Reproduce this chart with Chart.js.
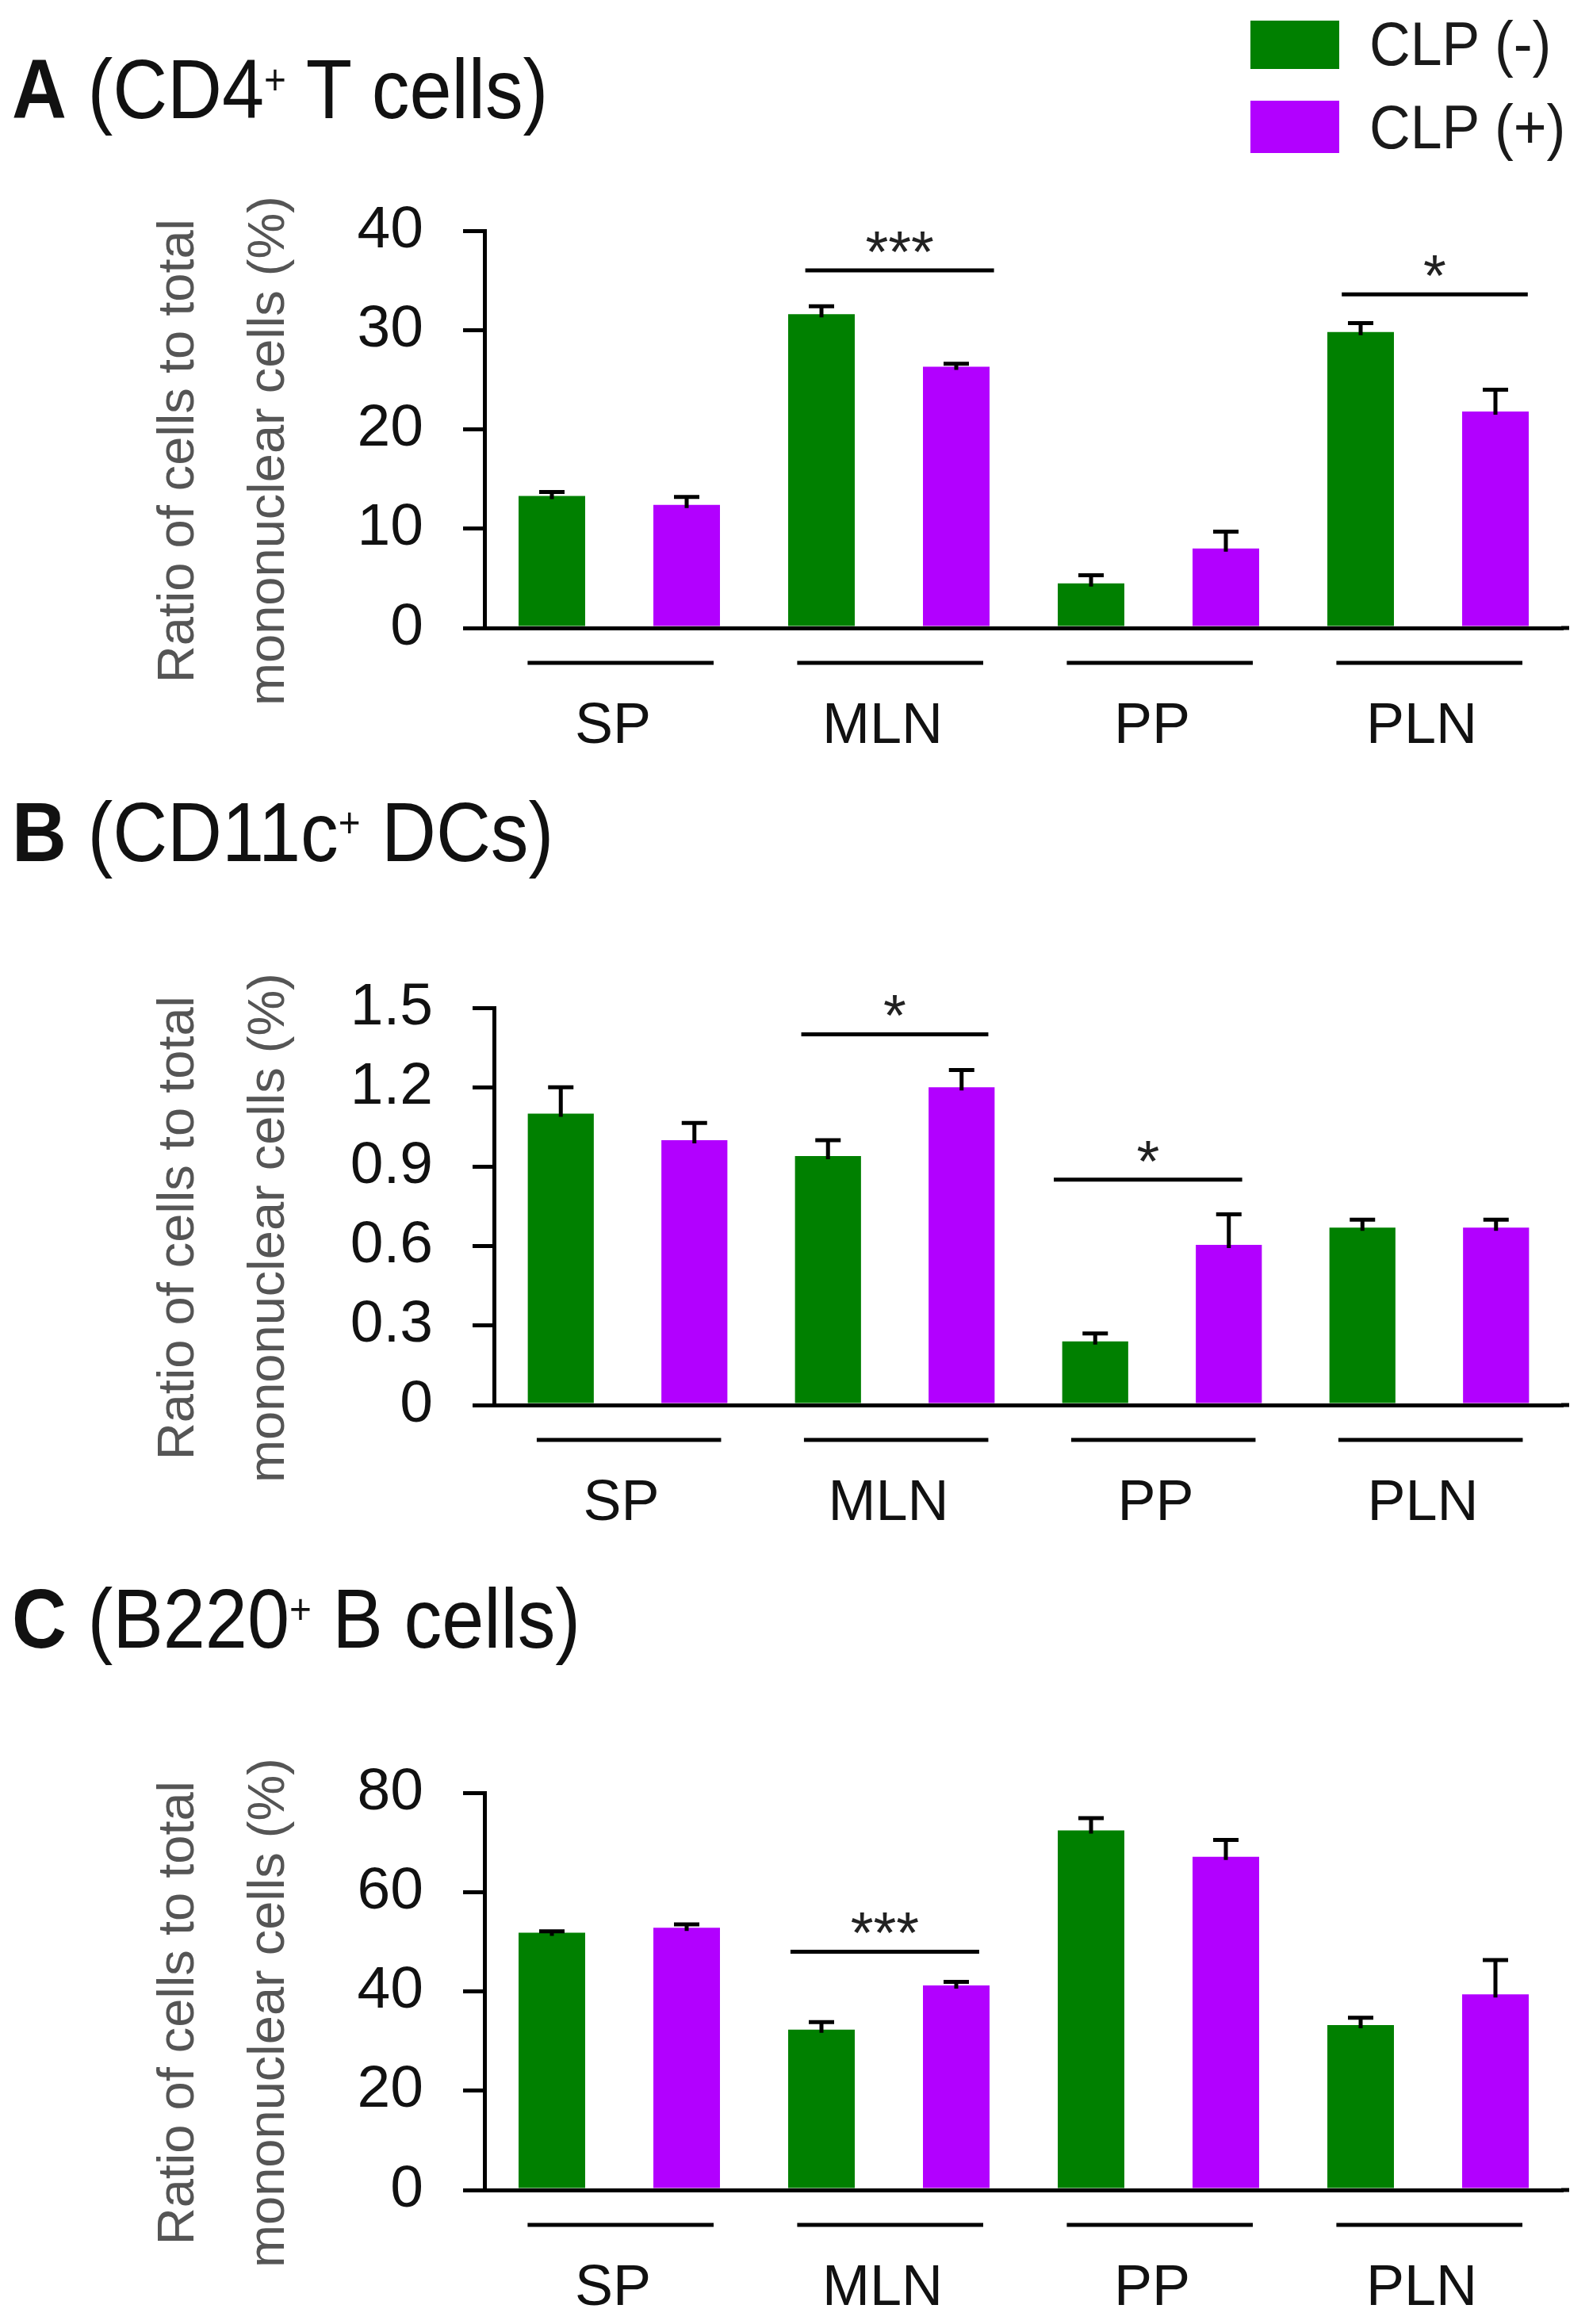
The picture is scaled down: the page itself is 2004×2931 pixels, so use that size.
<!DOCTYPE html>
<html>
<head>
<meta charset="utf-8">
<script src="https://cdn.jsdelivr.net/npm/chart.js@4.4.1/dist/chart.umd.min.js"></script>
<style>
html,body{margin:0;padding:0;background:#fff;}
body{width:2004px;height:2931px;position:relative;overflow:hidden;font-family:"Liberation Sans",Arial,sans-serif;}
.ptitle{position:absolute;left:15px;font-size:106px;line-height:1;white-space:nowrap;transform:scaleX(0.9);transform-origin:0 0;color:#111;}
.ptitle b{font-weight:bold;}
.ptitle sup{font-size:0.5em;vertical-align:30px;line-height:0;}
.legbox{position:absolute;left:1577px;width:112px;}
.legt{position:absolute;left:1727px;font-size:77px;line-height:1;white-space:nowrap;transform:scaleX(0.93);transform-origin:0 0;color:#1a1a1a;}
canvas{position:absolute;left:0;}
</style>
</head>
<body>
<div class="ptitle" style="top:59px;"><b>A</b> (CD4<sup>+</sup> T cells)</div>
<div class="ptitle" style="top:996px;"><b>B</b> (CD11c<sup>+</sup> DCs)</div>
<div class="ptitle" style="top:1988px;"><b>C</b> (B220<sup>+</sup> B cells)</div>

<div class="legbox" id="leg0" style="top:26px;height:61px;"></div>
<div class="legt" id="legt0" style="top:17px;"></div>
<div class="legbox" id="leg1" style="top:127px;height:66px;"></div>
<div class="legt" id="legt1" style="top:122px;"></div>

<canvas id="cA" width="2004" height="916" style="top:41px;width:2004px;height:916px;"></canvas>
<canvas id="cB" width="2004" height="916" style="top:1021px;width:2004px;height:916px;"></canvas>
<canvas id="cC" width="2004" height="916" style="top:2011px;width:2004px;height:916px;"></canvas>

<script>
// ---------- data ----------
const categories = ['SP', 'MLN', 'PP', 'PLN'];
const seriesNames = ['CLP (-)', 'CLP (+)'];
const seriesColors = ['#008000', '#b200ff'];

// Panel A: CD4+ T cells
const aNeg    = [13.3, 31.6, 4.5, 29.8];
const aNegErr = [0.4, 0.8, 0.8, 0.9];
const aPos    = [12.4, 26.3, 8.0, 21.8];
const aPosErr = [0.8, 0.3, 1.7, 2.2];
const aTicks  = [0, 10, 20, 30, 40];
const aTickLabels = ['0', '10', '20', '30', '40'];
const aSig = [
  {from: 0.69, to: 1.39, y: 36.0, label: '***'},
  {from: 2.68, to: 3.37, y: 33.6, label: '*'}
];

// Panel B: CD11c+ DCs
const bNeg    = [1.10, 0.94, 0.24, 0.67];
const bNegErr = [0.10, 0.06, 0.03, 0.03];
const bPos    = [1.00, 1.20, 0.605, 0.67];
const bPosErr = [0.065, 0.065, 0.115, 0.03];
const bTicks  = [0, 0.3, 0.6, 0.9, 1.2, 1.5];
const bTickLabels = ['0', '0.3', '0.6', '0.9', '1.2', '1.5'];
const bSig = [
  {from: 0.65, to: 1.35, y: 1.40, label: '*'},
  {from: 1.595, to: 2.30, y: 0.851, label: '*'}
];

// Panel C: B220+ B cells
const cNeg    = [51.8, 32.3, 72.4, 33.2];
const cNegErr = [0.3, 1.5, 2.5, 1.5];
const cPos    = [52.8, 41.2, 67.1, 39.4];
const cPosErr = [0.7, 0.7, 3.4, 6.9];
const cTicks  = [0, 20, 40, 60, 80];
const cTickLabels = ['0', '20', '40', '60', '80'];
const cSig = [
  {from: 0.635, to: 1.335, y: 48.0, label: '***'}
];

const yTitle = ['Ratio of cells to total   ', 'mononuclear cells (%)   '];
// -------------------------

for (let i = 0; i < 2; i++) {
  document.getElementById('leg' + i).style.background = seriesColors[i];
  document.getElementById('legt' + i).textContent = seriesNames[i];
}

Chart.defaults.font.family = '"Liberation Sans", Arial, sans-serif';
Chart.defaults.color = '#111';

const annotPlugin = {
  id: 'annot',
  afterDatasetsDraw(chart) {
    const ctx = chart.ctx;
    const xs = chart.scales.x, ys = chart.scales.y;
    const opts = chart.options.plugins.annot;
    const area = chart.chartArea;
    ctx.save();
    ctx.strokeStyle = '#000';
    ctx.lineWidth = 5;
    ctx.lineCap = 'butt';
    // x axis line runs slightly past the last group
    ctx.beginPath();
    ctx.moveTo(area.right - 2, area.bottom);
    ctx.lineTo(area.right + 8, area.bottom);
    ctx.stroke();
    // error bars (upper only)
    chart.data.datasets.forEach((ds, di) => {
      const meta = chart.getDatasetMeta(di);
      meta.data.forEach((bar, j) => {
        const v = ds.data[j];
        const top = ys.getPixelForValue(v + opts.errors[di][j]);
        const base = ys.getPixelForValue(v);
        ctx.beginPath();
        ctx.moveTo(bar.x, base + 4);
        ctx.lineTo(bar.x, top);
        ctx.moveTo(bar.x - 16, top);
        ctx.lineTo(bar.x + 16, top);
        ctx.stroke();
      });
    });
    // group underlines
    const yl = area.bottom + opts.underOffset;
    categories.forEach((c, i) => {
      const x1 = xs.getPixelForValue(i - 0.34);
      const x2 = xs.getPixelForValue(i + 0.35);
      ctx.beginPath();
      ctx.moveTo(x1, yl);
      ctx.lineTo(x2, yl);
      ctx.stroke();
    });
    // significance brackets
    ctx.fillStyle = '#222';
    ctx.font = '74px "Liberation Sans", Arial, sans-serif';
    ctx.textAlign = 'center';
    ctx.textBaseline = 'alphabetic';
    opts.sig.forEach(s => {
      const x1 = xs.getPixelForValue(s.from);
      const x2 = xs.getPixelForValue(s.to);
      const y = ys.getPixelForValue(s.y);
      ctx.beginPath();
      ctx.moveTo(x1, y);
      ctx.lineTo(x2, y);
      ctx.stroke();
      ctx.fillText(s.label, (x1 + x2) / 2, y + 2);
    });
    ctx.restore();
  }
};

function makeChart(id, neg, negErr, pos, posErr, ticks, tickLabels, sig, axisLeft) {
  const max = ticks[ticks.length - 1];
  return new Chart(document.getElementById(id), {
    type: 'bar',
    data: {
      labels: categories,
      datasets: [
        {label: seriesNames[0], data: neg, backgroundColor: seriesColors[0], borderWidth: 0},
        {label: seriesNames[1], data: pos, backgroundColor: seriesColors[1], borderWidth: 0}
      ]
    },
    options: {
      responsive: false,
      devicePixelRatio: 1,
      animation: false,
      events: [],
      layout: {padding: {top: 250, right: 33, left: 0, bottom: 0}},
      datasets: {bar: {categoryPercentage: 1.0, barPercentage: 0.494}},
      plugins: {
        legend: {display: false},
        tooltip: {enabled: false},
        annot: {errors: [negErr, posErr], sig: sig, underOffset: 44}
      },
      scales: {
        x: {
          type: 'category',
          grid: {display: false, drawTicks: false},
          border: {display: true, color: '#000', width: 5},
          ticks: {font: {size: 72}, color: '#111', padding: 82, labelOffset: -8, maxRotation: 0, autoSkip: false},
          afterFit(scale) { scale.height = 165; }
        },
        y: {
          min: 0, max: max,
          grid: {display: true, drawOnChartArea: false, drawTicks: true, tickLength: 27, color: '#000', lineWidth: 5},
          border: {display: true, color: '#000', width: 5},
          ticks: {
            font: {size: 75}, color: '#111', padding: 50,
            callback: (v) => {
              const k = ticks.findIndex(t => Math.abs(t - v) < 1e-9);
              return k >= 0 ? tickLabels[k] : '';
            }
          },
          afterBuildTicks(scale) { scale.ticks = ticks.map(t => ({value: t})); },
          title: {
            display: true, text: yTitle, color: '#555',
            font: {size: 65, lineHeight: 1.74},
            padding: {top: 170, bottom: 0}
          },
          afterFit(scale) { scale.width = axisLeft; }
        }
      }
    },
    plugins: [annotPlugin]
  });
}

makeChart('cA', aNeg, aNegErr, aPos, aPosErr, aTicks, aTickLabels, aSig, 611);
makeChart('cB', bNeg, bNegErr, bPos, bPosErr, bTicks, bTickLabels, bSig, 623);
makeChart('cC', cNeg, cNegErr, cPos, cPosErr, cTicks, cTickLabels, cSig, 611);
</script>
</body>
</html>
